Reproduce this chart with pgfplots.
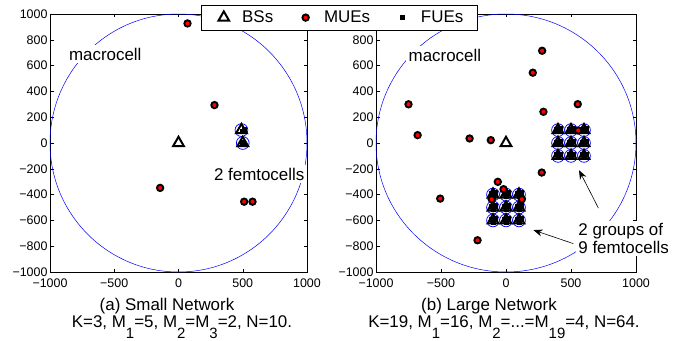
\documentclass[border=0pt]{standalone}
\usepackage{pgfplots}
\pgfplotsset{compat=1.18}
\usepackage{fontspec}
\setmainfont{Liberation Sans}
\usetikzlibrary{arrows.meta}
\newcommand\capfont{\fontsize{17}{19}\selectfont}
\newcommand\sub[1]{\raisebox{-10.5bp}{\fontsize{15}{15}\selectfont #1}}

\tikzset{lbl/.style={fill=white, inner sep=3bp, font=\capfont, text=black}}
\pgfplotsset{
  netaxis/.style={
    scale only axis, height=258bp,
    xmin=-1000,xmax=1000,ymin=-1000,ymax=1000,
    xtick={-1000,-500,0,500,1000},
    xticklabels={−1000,−500,0,500,1000},
    ytick={-1000,-800,-600,-400,-200,0,200,400,600,800,1000},
    yticklabels={−1000,−800,−600,−400,−200,0,200,400,600,800,1000},
    tick align=inside, major tick length=3.5bp,
    xtick pos=both, ytick pos=both,
    tick label style={font=\fontsize{12.5}{13}\selectfont, black},
    xticklabel style={yshift=-3bp},
    yticklabel style={xshift=1bp},
    axis line style={line width=0.6pt, black},
    every tick/.style={black, line width=0.5pt},
    clip mode=individual,
  },
  bsmark/.style={only marks, mark=triangle, mark size=6.2bp, mark options={draw=black, line width=2pt, fill=none}},
  muemark/.style={only marks, mark=*, mark size=3.2bp, mark options={draw=black, fill=red, line width=1.9pt}},
  fuemark/.style={only marks, mark=square*, mark size=2bp, mark options={draw=black, fill=black, line width=0.4pt}},
  femtofue/.style={only marks, mark=*, mark size=3.3bp, mark options={draw=black, fill=black, line width=0.4pt}},
  femtocirc/.style={only marks, mark=o, mark size=6.4bp, mark options={draw=blue, line width=0.7pt}},
}

\begin{document}
\begin{tikzpicture}
\path[use as bounding box] (-50bp,-69bp) rectangle (644bp,272bp);

% ---------------- (a) small network ----------------
\begin{axis}[netaxis, width=257bp, at={(0bp,0bp)}]
  \draw[blue, line width=0.5pt] (axis cs:0,0) circle[radius=1000];
  \addplot[femtocirc] coordinates {(490,100) (500,0)};
  \addplot[fuemark] coordinates {(515,108) (498,92) (502,5) (496,-4)};
  \addplot[bsmark] coordinates {(0,0) (490,100) (500,0)};
  \addplot[muemark] coordinates {(70,927) (280,294) (-143,-348) (511,-455) (576,-455)};
  \node[lbl, anchor=base] at (axis cs:-570,643) {macrocell};
  \node[lbl, anchor=base] at (axis cs:628,-287) {2 femtocells};
\end{axis}

% ---------------- (b) large network ----------------
\begin{axis}[netaxis, width=260bp, at={(326bp,0bp)},
  yticklabels={−1000,−800,−600,−400,−200,0,200,400,600,800,},
  legend columns=3,
  legend style={at={(-0.141,0.986)}, anchor=center, draw=black, line width=0.8pt,
    fill=white, font=\capfont, inner xsep=12bp, inner ysep=4bp,
    /tikz/every even column/.append style={column sep=20bp}},
  legend cell align=left,
  legend image code/.code={\path (0bp,0bp) (26bp,0bp); \draw[#1] plot coordinates {(10bp,0bp)};},
]
  \addlegendimage{bsmark}
  \addlegendentry{BSs}
  \addlegendimage{muemark}
  \addlegendentry{MUEs}
  \addlegendimage{fuemark}
  \addlegendentry{FUEs}
  \draw[blue, line width=0.5pt] (axis cs:0,0) circle[radius=1000];
  \addplot[femtocirc, forget plot] coordinates {
    (400,100) (500,100) (600,100) (400,0) (500,0) (600,0) (400,-100) (500,-100) (600,-100)
    (-100,-400) (0,-400) (100,-400) (-100,-500) (0,-500) (100,-500) (-100,-600) (0,-600) (100,-600)};
  \addplot[femtofue, forget plot] coordinates {
    (400,100) (500,100) (600,100) (400,0) (500,0) (600,0) (400,-100) (500,-100) (600,-100)
    (-100,-400) (0,-400) (100,-400) (-100,-500) (0,-500) (100,-500) (-100,-600) (0,-600) (100,-600)};
  \addplot[fuemark, forget plot] coordinates {
    (385,110) (415,115) (402,88) (485,110) (515,115) (502,88) (585,110) (615,115) (602,88)
    (385,10) (415,15) (402,-12) (485,10) (515,15) (502,-12) (585,10) (615,15) (602,-12)
    (385,-90) (415,-85) (402,-112) (485,-90) (515,-85) (502,-112) (585,-90) (615,-85) (602,-112)
    (-115,-390) (-85,-385) (-98,-412) (-15,-390) (15,-385) (2,-412) (85,-390) (115,-385) (102,-412)
    (-115,-490) (-85,-485) (-98,-512) (-15,-490) (15,-485) (2,-512) (85,-490) (115,-485) (102,-512)
    (-115,-590) (-85,-585) (-98,-612) (-15,-590) (15,-585) (2,-612) (85,-590) (115,-585) (102,-612)};
  \addplot[bsmark, forget plot] coordinates {(0,0)
    (400,100) (500,100) (600,100) (400,0) (500,0) (600,0) (400,-100) (500,-100) (600,-100)
    (-100,-400) (0,-400) (100,-400) (-100,-500) (0,-500) (100,-500) (-100,-600) (0,-600) (100,-600)};
  \addplot[muemark, forget plot] coordinates {
    (-750,300) (-680,61) (-280,35) (-117,22) (278,715) (206,545) (288,242) (552,301)
    (275,-229) (-63,-301) (-506,-431) (-219,-754) (-19,-358) (122,-436) (555,97) (-110,-436)};
  \node[lbl, anchor=base] at (axis cs:-470,630) {macrocell};
  \draw[black, line width=0.6pt, -{Stealth[length=9bp,width=7bp]}] (axis cs:711,-505) -- (axis cs:562,-211);
  \draw[black, line width=0.6pt, -{Stealth[length=9bp,width=7bp]}] (axis cs:518,-780) -- (axis cs:211,-675);
  \node[lbl, anchor=west, align=left, inner sep=2bp, font=\fontsize{17}{18.5}\selectfont] at (axis cs:540,-740) {2 groups of\\9 femtocells};
\end{axis}

% ---------------- captions ----------------
\node[anchor=base, font=\capfont, inner sep=0pt] at (117bp,-38bp) {(a) Small Network};
\node[anchor=base, font=\capfont, inner sep=0pt] at (132bp,-55.5bp) {K=3, M\sub{1}=5, M\sub{2}=M\sub{3}=2, N=10.};
\node[anchor=base, font=\capfont, inner sep=0pt] at (439bp,-38bp) {(b) Large Network};
\node[anchor=base, font=\capfont, inner sep=0pt] at (454bp,-55.5bp) {K=19, M\sub{1}=16, M\sub{2}=...=M\sub{19}=4, N=64.};
\end{tikzpicture}
\end{document}
